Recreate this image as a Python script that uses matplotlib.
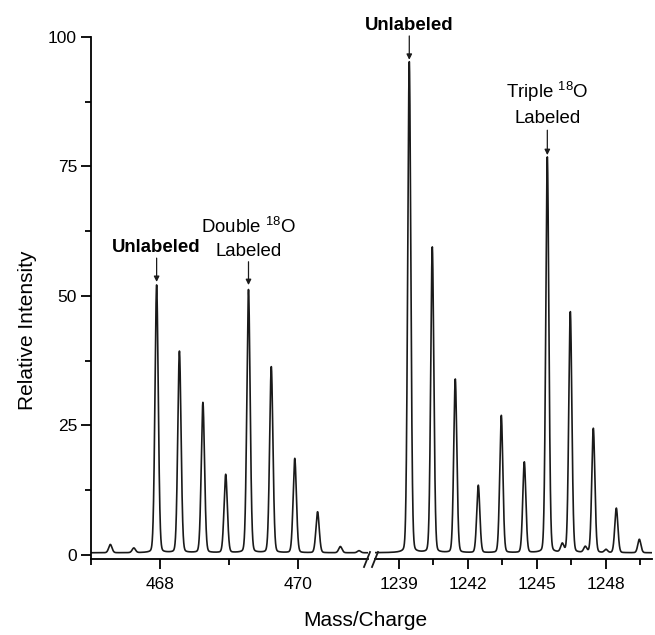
import numpy as np
import matplotlib
matplotlib.use("Agg")
import matplotlib.pyplot as plt

plt.rcParams['font.family'] = ['Liberation Sans', 'DejaVu Sans']
plt.rcParams['mathtext.fontset'] = 'custom'
plt.rcParams['mathtext.rm'] = 'Liberation Sans'

# peak list, left panel (z = 3)
mz_links = [467.28, 467.62, 467.95, 468.28, 468.62, 468.95, 469.28, 469.61, 469.95, 470.28, 470.61, 470.88]
int_links = [1.6, 0.9, 51.7, 38.9, 29.0, 15.1, 50.8, 35.9, 18.2, 7.9, 1.2, 0.4]

# peak list, right panel (z = 1)
mz_rechts = [1239.45, 1240.45, 1241.45, 1242.45, 1243.45, 1244.45, 1245.45, 1246.1,
             1246.45, 1247.1, 1247.45, 1248.0, 1248.45, 1249.45]
int_rechts = [94.8, 59.0, 33.5, 13.0, 26.5, 17.5, 76.4, 1.6, 46.5, 1.1, 24.0, 0.6, 8.6, 2.6]

basis = 0.4


def spektrum(x, zentren, hoehen, breite):
    y = np.full_like(x, basis)
    for c, h in zip(zentren, hoehen):
        d = (x - c) / (breite / 2)
        dl = d * 1.4
        y += h * (0.15 / (1 + dl**2) + 0.85 * np.exp(-np.log(2) * d**2))
    return y


fig = plt.figure(figsize=(6.55, 6.35), dpi=100)
W, H = 655, 635
ax1 = fig.add_axes([91 / W, (H - 559) / H, (368 - 91) / W, (559 - 37) / H])
ax2 = fig.add_axes([375 / W, (H - 559) / H, (652 - 375) / W, (559 - 37) / H])

farbe = '#1a1a1a'
x1 = np.linspace(467.0, 471.01, 4000)
ax1.plot(x1, spektrum(x1, mz_links, int_links, 0.058), color=farbe, lw=1.2)
x2 = np.linspace(1237.96, 1250.0, 6000)
ax2.plot(x2, spektrum(x2, mz_rechts, int_rechts, 0.165), color=farbe, lw=1.2)

ax1.set_xlim(467.0, 471.01)
ax2.set_xlim(1237.96, 1250.0)
for ax in (ax1, ax2):
    ax.set_ylim(-0.8, 100)
    ax.spines['top'].set_visible(False)
    ax.spines['right'].set_visible(False)
    for s in ax.spines.values():
        s.set_linewidth(1.3)
    ax.tick_params(which='major', length=7, width=1.3, labelsize=12.5, pad=6)
    ax.tick_params(which='minor', length=4, width=1.3)

ax1.set_yticks([0, 25, 50, 75, 100])
ax1.set_yticks([12.5, 37.5, 62.5, 87.5], minor=True)
ax1.tick_params(axis='y', pad=3)
ax1.set_xticks([468, 470])
ax1.set_xticks([467, 469], minor=True)

ax2.spines['left'].set_visible(False)
ax2.set_yticks([])
ax2.set_xticks([1239, 1242, 1245, 1248])
ax2.set_xticks([1240.5, 1243.5, 1246.5, 1249.5], minor=True)

# break marks
for xp in (364, 372):
    fig.add_artist(plt.Line2D([xp / W, (xp + 6) / W], [(H - 567) / H, (H - 552) / H],
                              color=farbe, lw=1.3))

pfeil = dict(arrowstyle='-|>', color=farbe, lw=0.9, mutation_scale=8, shrinkA=0, shrinkB=0)
ax1.annotate('', xy=(467.95, 52.7), xytext=(467.95, 57.3), arrowprops=pfeil)
ax1.text(467.95, 59.3, 'Unlabeled', ha='center', va='center', fontsize=13.4, fontweight='bold')
ax1.annotate('', xy=(469.28, 52.1), xytext=(469.28, 56.6), arrowprops=pfeil)
ax1.text(469.28, 61.2, 'Double $^{18}$O\nLabeled', ha='center', va='center',
         fontsize=13.4, linespacing=1.45)

ax2.annotate('', xy=(1239.45, 95.6), xytext=(1239.45, 100.2), arrowprops=pfeil,
             annotation_clip=False)
ax2.text(1239.45, 102.3, 'Unlabeled', ha='center', va='center', fontsize=13.4,
         fontweight='bold', clip_on=False)
ax2.annotate('', xy=(1245.45, 77.2), xytext=(1245.45, 82.0), arrowprops=pfeil)
ax2.text(1245.45, 87.2, 'Triple $^{18}$O\nLabeled', ha='center', va='center',
         fontsize=13.4, linespacing=1.45)

fig.text(365 / W, 1 - 620 / H, 'Mass/Charge', ha='center', va='center', fontsize=15)
fig.text(28 / W, 1 - 330 / H, 'Relative Intensity', ha='center', va='center',
         rotation=90, fontsize=15)

plt.savefig('out.png', dpi=100)
